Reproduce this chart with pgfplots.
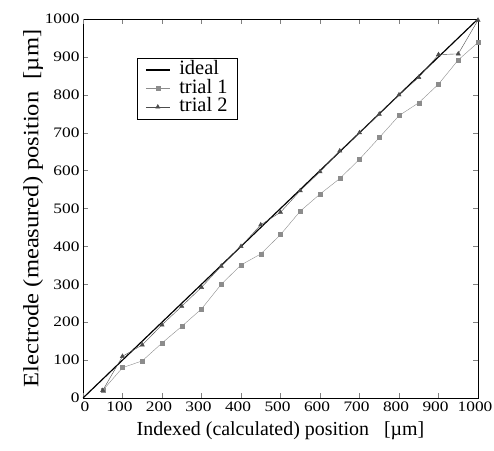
\documentclass[border=0pt]{standalone}
\usepackage{fontspec}
\setmainfont{Liberation Serif}
\newfontfamily\tickfont[FakeStretch=1.2]{Liberation Serif}
\usepackage{graphicx}
\usepackage{pgfplots}
\pgfplotsset{compat=1.18}

\definecolor{trialone}{gray}{0.55}
\definecolor{trialtwo}{gray}{0.3}

\begin{document}
\begin{tikzpicture}
\begin{axis}[scale only axis, width=395bp, height=379bp,
  xmin=0, xmax=1000, ymin=0, ymax=1000,
  xtick={100,200,...,1000}, ytick={0,100,...,1000},
  extra x ticks={0}, extra x tick style={xticklabel style={xshift=5bp}},
  tick align=inside, major tick length=5bp,
  tick label style={font=\tickfont\fontsize{14.5}{14.5}\selectfont},
  xticklabel style={xshift=-3bp},
  /pgf/number format/assume math mode=true,
  /pgf/number format/1000 sep={},
  xlabel={Indexed (calculated) position\ \ \ [µm]},
  ylabel={\scalebox{1.12}[1]{Electrode (measured) position\ \ [µm]}},
  xlabel style={font=\fontsize{20}{20}\selectfont, yshift=-4bp},
  ylabel style={font=\fontsize{22}{22}\selectfont, yshift=-5bp},
  legend style={at={(0.137,0.897)}, anchor=north west, draw=black,
    inner xsep=8bp, inner ysep=3bp,
    nodes={inner ysep=0.5bp, text height=13bp, text depth=3.5bp},
    /tikz/every odd column/.append style={column sep=7bp},
    font=\fontsize{20.5}{17}\selectfont, row sep=1bp},
  legend image code/.code={\draw[mark repeat=2, mark phase=2] plot coordinates {(0cm,0cm) (0.42cm,0cm) (0.84cm,0cm)};},
  legend cell align=left]
\addplot[black, line width=1.2pt] coordinates {(0,0)(1000,1000)};
\addplot[trialone, thin, mark=square*, mark size=2pt, mark options={fill=trialone}] coordinates {
(50,20)(100,80)(150,98)(200,145)(250,189)(300,235)(350,300)(400,351)(450,380)(500,431)(550,493)
(600,538)(650,579)(700,630)(750,687)(800,745)(850,779)(900,828)(950,892)(1000,938)};
\addplot[trialtwo, thin, mark=triangle*, mark size=2.5pt, mark options={fill=trialtwo}] coordinates {
(50,20)(100,110)(150,140)(200,193)(250,242)(300,292)(350,348)(400,400)(450,457)(500,490)(550,547)
(600,597)(650,652)(700,700)(750,749)(800,800)(850,846)(900,906)(950,908)(1000,997)};
\legend{ideal, trial 1, trial 2}
\end{axis}
\pgfresetboundingbox
\path[use as bounding box] ([xshift=-83bp,yshift=-53bp]current axis.south west) rectangle ([xshift=16bp,yshift=19bp]current axis.north east);
\end{tikzpicture}
\end{document}
